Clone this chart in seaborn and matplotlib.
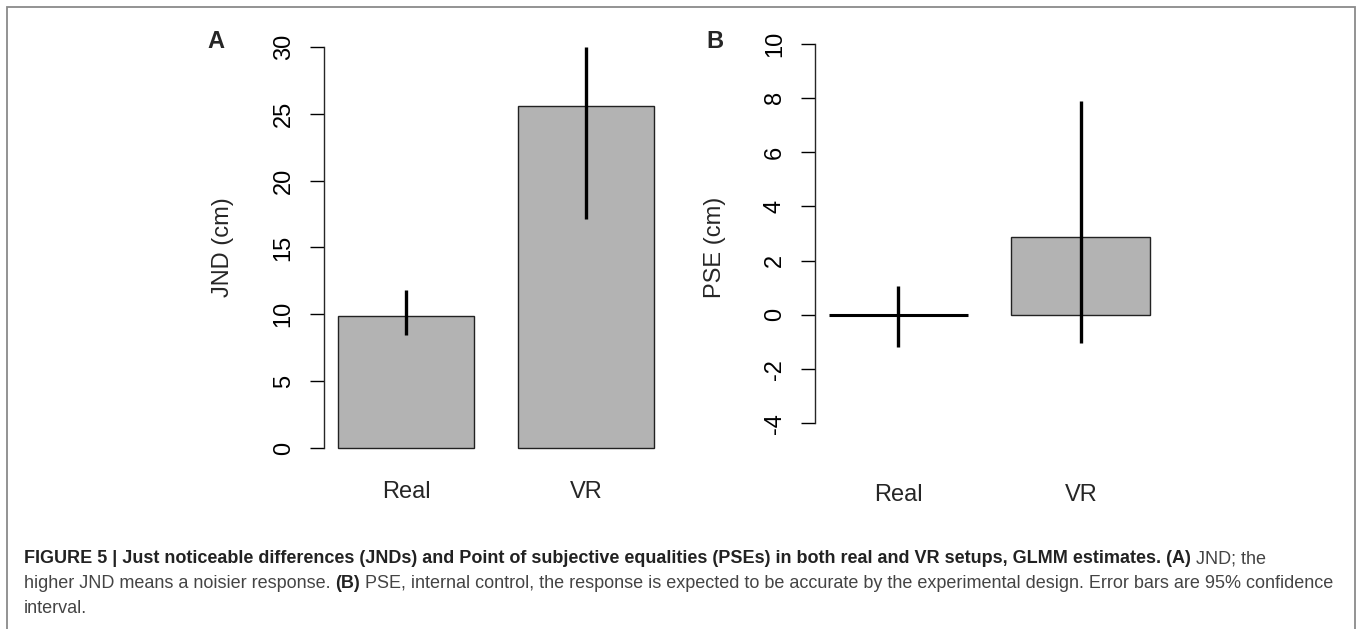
import numpy as np
import matplotlib
matplotlib.use('Agg')
import matplotlib.pyplot as plt
import seaborn as sns
from matplotlib import font_manager
from matplotlib.patches import Rectangle

setups = ['Real', 'VR']

# painel A - JND (cm), estimativa e IC 95%
jnd = [9.9, 25.6]
jnd_low = [8.45, 17.1]
jnd_high = [11.8, 30.0]
jnd_ticks = [0, 5, 10, 15, 20, 25, 30]

# painel B - PSE (cm), estimativa e IC 95%
pse = [0.0, 2.87]
pse_low = [-1.2, -1.05]
pse_high = [1.08, 7.87]
pse_ticks = [-4, -2, 0, 2, 4, 6, 8, 10]

legenda = [
    [("FIGURE 5 | Just noticeable differences (JNDs) and Point of subjective equalities (PSEs) in both real and VR setups, GLMM estimates. (A)", True),
     (" JND; the", False)],
    [("higher JND means a noisier response. ", False), ("(B)", True),
     (" PSE, internal control, the response is expected to be accurate by the experimental design. Error bars are 95% confidence", False)],
    [("interval.", False)],
]

sns.set_style('ticks')
plt.rcParams['font.family'] = ['Liberation Sans', 'DejaVu Sans']

nomes = {f.name for f in font_manager.fontManager.ttflist}
fonte_leg = 'Liberation Sans Narrow' if 'Liberation Sans Narrow' in nomes else 'Liberation Sans'

W, H = 1356, 629
fig = plt.figure(figsize=(W / 100, H / 100), dpi=100)

axA = fig.add_axes([310 / W, (H - 464) / H, 360 / W, 433 / H])
axB = fig.add_axes([800 / W, (H - 438.5) / H, 360 / W, 410 / H])


def painel(ax, vals, lo, hi, ticks, ylabel, xlim, spine_x, ylim, xpad, ylab_x):
    sns.barplot(x=setups, y=vals, ax=ax, color='#b3b3b3', edgecolor='#222222',
                linewidth=1.0, width=0.76, saturation=1, errorbar=None)
    for p in ax.patches:
        if p.get_height() == 0:
            p.set_linewidth(2.2)
            p.set_edgecolor('black')
    pos = np.arange(len(setups))
    ax.vlines(pos, lo, hi, color='black', linewidth=2.4, zorder=3)
    ax.set_xlim(*xlim)
    ax.set_ylim(*ylim)
    for s in ['top', 'right', 'bottom']:
        ax.spines[s].set_visible(False)
    ax.spines['left'].set_position(('data', spine_x))
    ax.spines['left'].set_bounds(ticks[0], ticks[-1])
    ax.spines['left'].set_linewidth(1.0)
    ax.set_yticks(ticks)
    ax.set_yticklabels([str(t) for t in ticks], rotation=90, va='center')
    ax.tick_params(axis='y', length=10, width=1, pad=11, labelsize=17, colors='black')
    ax.tick_params(axis='x', length=0, pad=xpad, labelsize=17)
    ax.set_xlabel('')
    ax.set_ylabel(ylabel, fontsize=17)
    ax.yaxis.set_label_coords(ylab_x, 0.5)


painel(axA, jnd, jnd_low, jnd_high, jnd_ticks, 'JND (cm)',
       (-0.533, 1.467), -0.456, (-1.2, 31.2), 12, -0.211)
painel(axB, pse, pse_low, pse_high, pse_ticks, 'PSE (cm)',
       (-0.536, 1.432), -0.4536, (-4.56, 10.56), 33, -0.206)
axB.yaxis.set_label_coords(-0.206, 0.467)

fig.text(216 / W, 1 - 42 / H, 'A', fontsize=17, fontweight='bold', ha='center', va='center')
fig.text(715 / W, 1 - 42 / H, 'B', fontsize=17, fontweight='bold', ha='center', va='center')

# moldura
fig.patches.append(Rectangle((7 / W, -0.05), (1355 - 7) / W, 1 - 7 / H + 0.05,
                             transform=fig.transFigure, fill=False,
                             edgecolor='#8a8a8a', linewidth=1.3))

# legenda com trechos em negrito
renderer = fig.canvas.get_renderer()


def largura(partes, size):
    tot = 0
    for txt, negrito in partes:
        t = fig.text(0, 0, txt, fontsize=size, family=fonte_leg,
                     fontweight='bold' if negrito else 'normal')
        tot += t.get_window_extent(renderer).width
        t.remove()
    return tot


tam = 13 * 1311 / largura(legenda[1], 13)

for partes, base in zip(legenda, [563, 588.5, 613]):
    x = 24
    for txt, negrito in partes:
        t = fig.text(x / W, 1 - base / H, txt, fontsize=tam, family=fonte_leg,
                     fontweight='bold' if negrito else 'normal',
                     color='#222222' if negrito else '#444444', va='baseline')
        x += t.get_window_extent(renderer).width

fig.savefig('out.png', dpi=100)
